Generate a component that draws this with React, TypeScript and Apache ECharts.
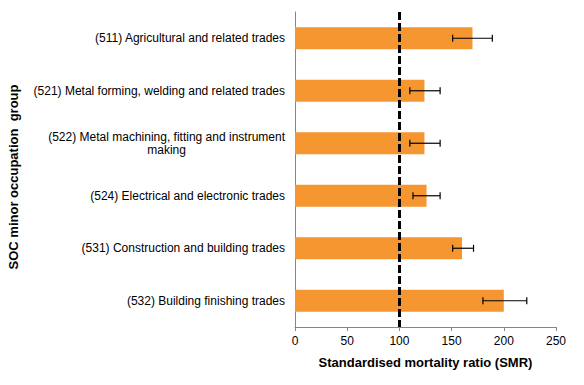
import React, { useEffect, useRef } from "react";
import * as echarts from "echarts";

const categories = [
  "(511) Agricultural and related trades",
  "(521) Metal forming, welding and related trades",
  "(522) Metal machining, fitting and instrument making",
  "(524) Electrical and electronic trades",
  "(531) Construction and building trades",
  "(532) Building finishing trades",
];
const smr = [170, 124, 124, 126, 160, 200];
const lower = [151, 110, 110, 113, 151, 180];
const upper = [189, 139, 139, 139, 171, 222];
const xTicks = [0, 50, 100, 150, 200, 250];

export default function App() {
  const ref = useRef<HTMLDivElement>(null);
  useEffect(() => {
    if (!ref.current) return;
    const chart = echarts.init(ref.current, undefined, { renderer: "svg" });
    const font = "Liberation Sans, Arial, sans-serif";
    chart.setOption({
      animation: false,
      grid: { left: 295, right: 28, top: 12, bottom: 58, containLabel: false },
      xAxis: {
        type: "value",
        min: xTicks[0],
        max: xTicks[xTicks.length - 1],
        interval: 50,
        splitLine: { show: false },
        axisLine: { show: true, lineStyle: { color: "#868686", width: 1 } },
        axisTick: { show: true, length: 4, lineStyle: { color: "#868686" } },
        axisLabel: { color: "#000", fontSize: 12, fontFamily: font, margin: 8 },
        name: "Standardised mortality ratio (SMR)",
        nameLocation: "middle",
        nameGap: 29,
        nameTextStyle: { color: "#000", fontSize: 13, fontWeight: "bold", fontFamily: font },
      },
      yAxis: {
        type: "category",
        data: categories,
        inverse: true,
        axisLine: { show: true, lineStyle: { color: "#868686", width: 1 } },
        axisTick: { show: false },
        axisLabel: {
          color: "#000",
          fontSize: 12,
          fontFamily: font,
          margin: 10,
          align: "right",
          formatter: (v: string) => {
            if (v.indexOf("(522)") === 0) {
              return "{a|(522) Metal machining, fitting and instrument}\n{b|making}";
            }
            return v;
          },
          rich: {
            a: { fontSize: 12, fontFamily: font, color: "#000", lineHeight: 13 },
            b: { fontSize: 12, fontFamily: font, color: "#000", lineHeight: 13, align: "center" },
          },
        },
      },
      graphic: [
        {
          type: "text",
          x: 13,
          y: 177,
          rotation: Math.PI / 2,
          style: {
            text: "SOC minor occupation  group",
            fill: "#000",
            fontSize: 13,
            fontWeight: "bold",
            fontFamily: font,
            align: "center",
            verticalAlign: "middle",
          },
        },
      ],
      series: [
        {
          type: "bar",
          data: smr,
          barWidth: 22,
          itemStyle: { color: "#F69631" },
          markLine: {
            silent: true,
            symbol: "none",
            label: { show: false },
            lineStyle: { color: "#000", width: 3, type: [8, 3] },
            data: [{ xAxis: 100 }],
            z: 5,
          },
        },
        {
          type: "custom",
          z: 4,
          data: categories.map((_, i) => [i, lower[i], upper[i]]),
          encode: { y: 0, x: [1, 2] },
          renderItem: (params: any, api: any) => {
            const c = api.value(0);
            const p1 = api.coord([api.value(1), c]);
            const p2 = api.coord([api.value(2), c]);
            const h = 3.5;
            const st = { stroke: "#000", lineWidth: 1.2 };
            return {
              type: "group",
              children: [
                { type: "line", shape: { x1: p1[0], y1: p1[1], x2: p2[0], y2: p2[1] }, style: st },
                { type: "line", shape: { x1: p1[0], y1: p1[1] - h, x2: p1[0], y2: p1[1] + h }, style: st },
                { type: "line", shape: { x1: p2[0], y1: p2[1] - h, x2: p2[0], y2: p2[1] + h }, style: st },
              ],
            };
          },
        },
      ],
    });
    return () => chart.dispose();
  }, []);
  return <div ref={ref} style={{ width: 584, height: 385, position: "absolute", left: 0, top: 0 }} />;
}
